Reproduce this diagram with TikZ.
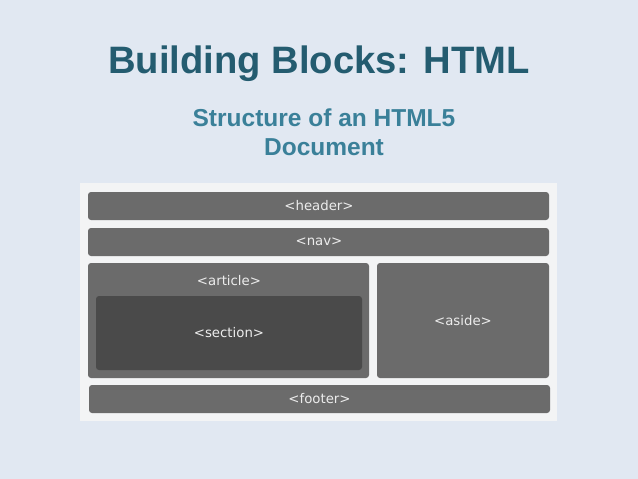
\documentclass[tikz,border=0pt]{standalone}
\usepackage{fontspec}
\setmainfont{Liberation Sans}
\newfontfamily\boxfont{DejaVu Sans}
\definecolor{bg}{HTML}{E1E8F2}
\definecolor{panel}{HTML}{F3F4F5}
\definecolor{blk}{HTML}{6B6B6B}
\definecolor{sec}{HTML}{4A4A4A}
\definecolor{ttl}{HTML}{245C70}
\definecolor{sub}{HTML}{3A8099}
\definecolor{lbl}{HTML}{ECECEC}
\begin{document}
\begin{tikzpicture}[x=1pt,y=-1pt,
  blockbox/.style={fill=blk,rounded corners=3pt,draw=none},
  secbox/.style={fill=sec,rounded corners=3pt,draw=none},
  lab/.style={text=lbl,font=\boxfont\fontsize{13.3}{15}\selectfont,inner sep=0pt,anchor=center}]
\useasboundingbox (0,0) rectangle (638,479);
\fill[bg] (0,0) rectangle (638,479);
\fill[panel] (80,183) rectangle (557,421);
\node[text=ttl,font=\bfseries\fontsize{38.2}{44}\selectfont,anchor=base] (title) at (319,73) {Building Blocks: HTML};
\node[text=sub,font=\bfseries\fontsize{24.5}{29}\selectfont,align=center,anchor=base] (subtitle) at (324,155) {Structure of an HTML5\\Document};
\draw[blockbox] (88,192) rectangle (549,220);
\node[lab] (header) at (319,206) {<header>};
\draw[blockbox] (88,228) rectangle (549,256);
\node[lab] (nav) at (319,242) {<nav>};
\draw[blockbox] (88,263) rectangle (369,378);
\node[lab] (article) at (229,281) {<article>};
\draw[secbox] (96,296) rectangle (362,370);
\node[lab] (section) at (229,333) {<section>};
\draw[blockbox] (377,263) rectangle (549,378);
\node[lab] (aside) at (463,321) {<aside>};
\draw[blockbox] (89,385) rectangle (550,413);
\node[lab] (footer) at (319.5,399) {<footer>};
\end{tikzpicture}
\end{document}
